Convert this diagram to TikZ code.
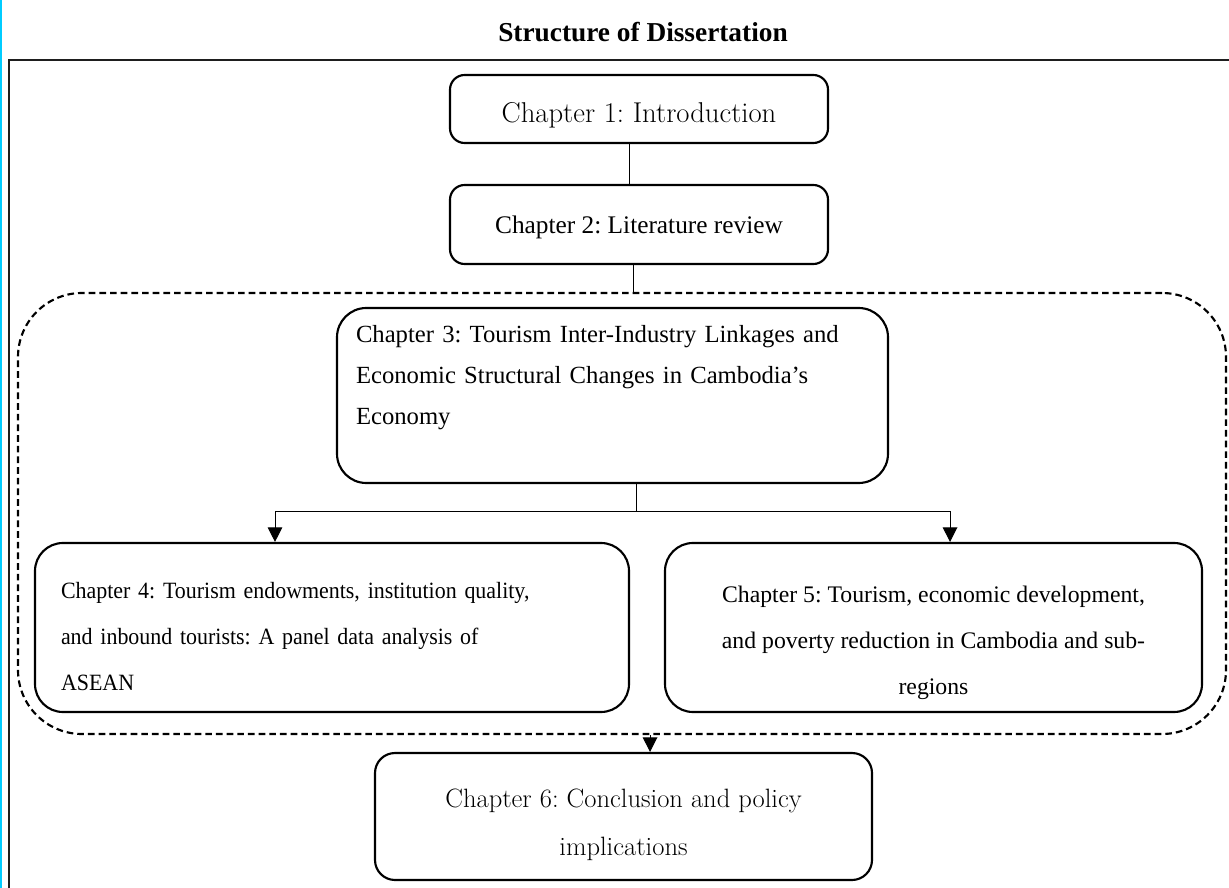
\documentclass[tikz,border=0pt]{standalone}
\usepackage{fontspec}
\newfontfamily\tnr{Liberation Serif}
\newfontfamily\tnrn[FakeStretch=0.94]{Liberation Serif}
\usetikzlibrary{arrows.meta}
\frenchspacing

\tikzset{every picture/.style={line width=0.75pt}}
\tikzset{
  chapbox/.style={draw, line width=1.6pt, inner sep=0pt},
  grpbox/.style={draw, line width=1.6pt, dash pattern={on 5pt off 3pt}, rounded corners=48pt, inner sep=0pt},
  tip/.style={-{Triangle[width=11pt,length=11pt]}}
}

\begin{document}
\begin{tikzpicture}[x=0.75pt,y=0.75pt,yscale=-1,xscale=1]
\clip (0,0) rectangle (1229,888);

%Page rules
\draw [color={rgb, 255:red, 0; green, 204; blue, 255 }, line width=1.5pt] (1,0) -- (1,888);
\draw [color={rgb, 255:red, 30; green, 30; blue, 30 }, line width=1.5pt] (9,900) -- (9,60) -- (1240,60);

% Text Node
\node [font=\tnr\bfseries\fontsize{20.5}{24}\selectfont] (title) at (643,32) {Structure of Dissertation};

%Rounded Rect
\node [chapbox, rounded corners=11pt, minimum width=283.5pt, minimum height=51pt, font=\fontsize{21.5}{24}\selectfont] (ch1) at (639,109) {\rule{0pt}{24pt}Chapter 1: Introduction};
%Rounded Rect
\node [chapbox, rounded corners=11pt, minimum width=283.5pt, minimum height=59.25pt, font=\tnr\fontsize{19}{22}\selectfont] (ch2) at (639,224.5) {\rule{0pt}{17pt}Chapter 2: Literature review};

%Dashed group
\node [grpbox, minimum width=906pt, minimum height=330.75pt] (grp) at (622,513.5) {};

%Rounded Rect
\node [chapbox, rounded corners=22pt, minimum width=413.25pt, minimum height=131.25pt, text width=384.75pt, align=left, font=\tnr\fontsize{18.5}{30.75}\selectfont] (ch3) at (612.5,395.5) {Chapter 3: Tourism Inter-Industry Linkages and\\Economic Structural Changes in Cambodia’s\\Economy\\\mbox{}};
%Rounded Rect
\node [chapbox, rounded corners=21pt, minimum width=445.5pt, minimum height=126.75pt, text width=406.5pt, align=left, font=\tnrn\fontsize{17.5}{34.5}\selectfont] (ch4) at (332,627.5) {\rule{0pt}{26pt}Chapter 4: Tourism endowments, institution quality,\\and inbound tourists: A panel data analysis of\\ASEAN};
%Rounded Rect
\node [chapbox, rounded corners=21pt, minimum width=402.75pt, minimum height=126.75pt, align=center, font=\tnr\fontsize{17.8}{34.5}\selectfont] (ch5) at (933.5,627.5) {\rule{0pt}{36pt}Chapter 5: Tourism, economic development,\\and poverty reduction in Cambodia and sub-\\regions};
%Rounded Rect
\node [chapbox, rounded corners=15pt, minimum width=372.75pt, minimum height=95.25pt, align=center, font=\fontsize{19.9}{36}\selectfont] (ch6) at (623.5,816.5) {\rule{0pt}{26pt}Chapter 6: Conclusion and policy\\implications};

%Straight Lines
\draw ([xshift=-7.5pt]ch1.south) -- ([xshift=-7.5pt]ch2.north);
\draw ([xshift=-4.5pt]ch2.south) -- ([xshift=-4.5pt]ch2.south |- grp.north);
\coordinate (split) at (636,511);
\draw (ch3.south -| split) -- (split);
\draw [tip] (split) -| ([xshift=-42.75pt]ch4.north);
\draw [tip] (split) -| ([xshift=12.4pt]ch5.north);
\draw [tip] ([xshift=19.9pt]ch6.north |- grp.south) -- ([xshift=19.9pt]ch6.north);

\end{tikzpicture}
\end{document}
